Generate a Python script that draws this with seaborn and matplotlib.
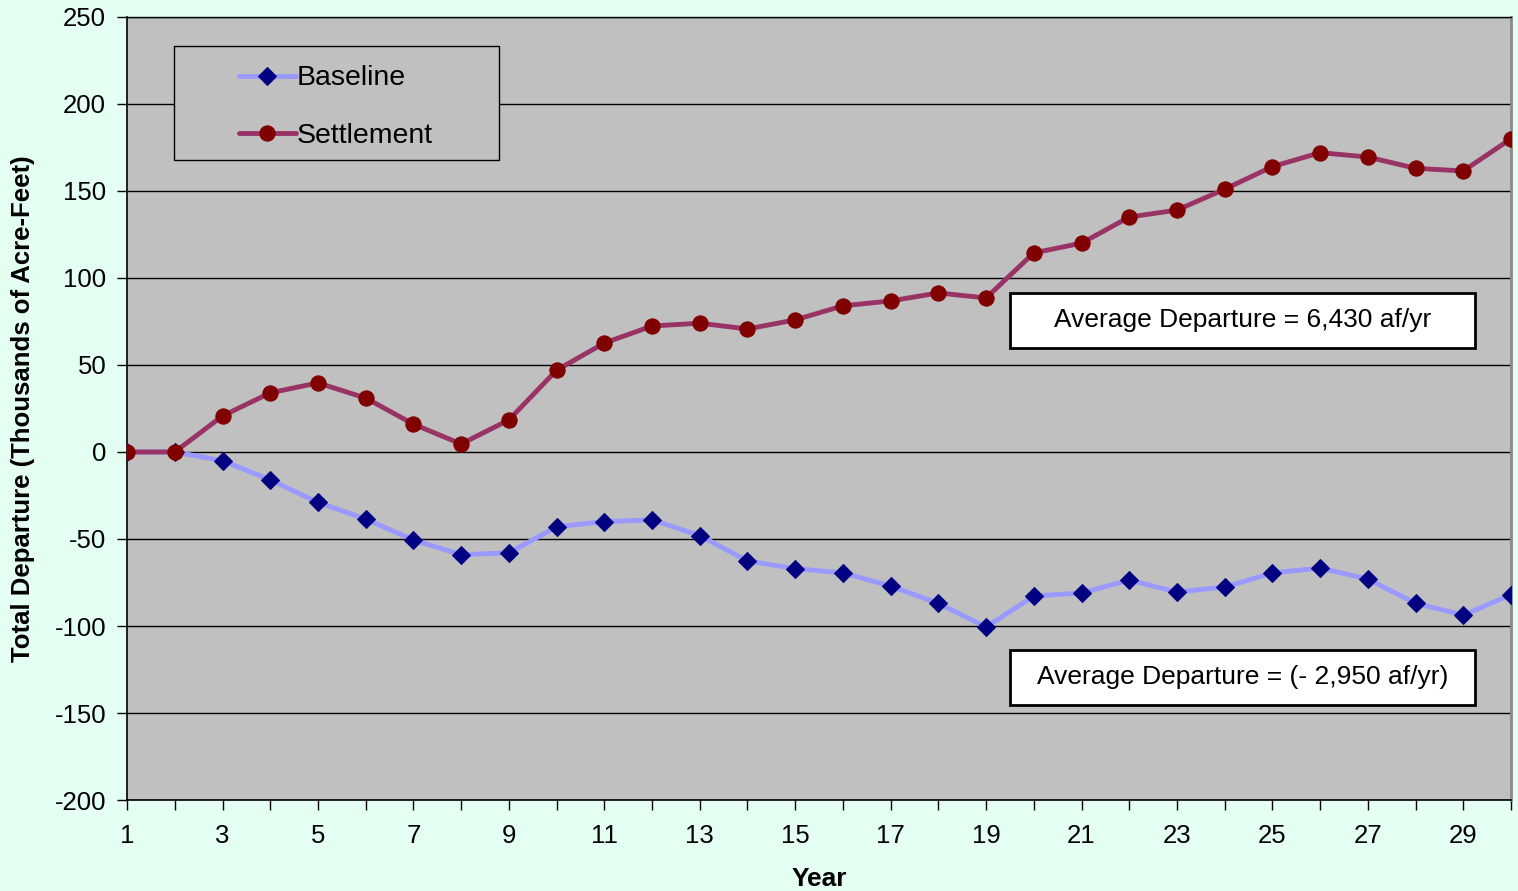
import matplotlib
matplotlib.use("Agg")
import matplotlib.pyplot as plt
from matplotlib.patches import Rectangle
import seaborn as sns
import pandas as pd

years = list(range(1, 31))
baseline = [0, 0, -5, -16, -29, -38.5, -50.6, -59, -58, -43,
            -40, -39, -48, -62.6, -67, -69.5, -77, -87, -100.6, -82.8,
            -81, -73.6, -80.5, -77.6, -69.5, -66.7, -73, -87, -93.7, -82]
settlement = [0, 0, 20.7, 34, 39.7, 31, 16, 4.6, 18.4, 47,
              62.6, 72.4, 74, 70.7, 75.9, 84, 86.8, 91.4, 88.5, 114.4,
              120, 135, 139, 151, 164, 172, 169.5, 163, 161.5, 180]
yticks = list(range(-200, 251, 50))
xtick_labels = [str(y) if y % 2 == 1 else "" for y in years]
notes = ["Average Departure = 6,430 af/yr", "Average Departure = (- 2,950 af/yr)"]

sns.set_theme(style="white")
plt.rcParams["font.family"] = ["Liberation Sans", "DejaVu Sans"]
for key in ["text.color", "axes.labelcolor", "xtick.color", "ytick.color"]:
    plt.rcParams[key] = "black"

fig = plt.figure(figsize=(15.18, 8.91), dpi=100, facecolor="#E4FFF2")
ax = fig.add_axes([0.0837, 0.1021, 0.9117, 0.8789])
ax.set_facecolor("#C0C0C0")

df = pd.DataFrame({"Year": years, "Baseline": baseline, "Settlement": settlement})

sns.lineplot(data=df, x="Year", y="Baseline", ax=ax, color="#9999FF", lw=3.5,
             marker="D", markersize=9.5, markerfacecolor="#000080",
             markeredgecolor="#000080", label="Baseline", zorder=3)
sns.lineplot(data=df, x="Year", y="Settlement", ax=ax, color="#993366", lw=3.5,
             marker="o", markersize=11, markerfacecolor="#800000",
             markeredgecolor="#800000", label="Settlement", zorder=4)

ax.set_xlim(1, 30)
ax.set_ylim(-200, 250)
ax.set_yticks(yticks)
ax.set_yticklabels([str(v) for v in yticks], fontsize=18.5)
ax.set_xticks(years)
ax.set_xticklabels(xtick_labels, fontsize=18.5)
ax.tick_params(axis="both", direction="out", length=7, width=1, color="black",
               bottom=True, left=True)
ax.tick_params(axis="y", pad=8)
ax.tick_params(axis="x", pad=10)
ax.yaxis.grid(True, color="black", lw=1)
ax.xaxis.grid(False)
ax.set_axisbelow(True)

for side in ["left", "bottom"]:
    ax.spines[side].set_color("black")
    ax.spines[side].set_linewidth(1.2)
ax.spines["top"].set_color("black")
ax.spines["top"].set_linewidth(1)
ax.spines["right"].set_color("#8A8A8A")
ax.spines["right"].set_linewidth(2)

ax.set_xlabel("Year", fontsize=19, fontweight="bold", labelpad=14)
ax.set_ylabel("Total Departure (Thousands of Acre-Feet)", fontsize=18.5,
              fontweight="bold", labelpad=14)

# legend frame drawn as its own box, legend entries placed inside it
ax.add_patch(Rectangle((0.034, 0.8174), 0.2348, 0.1456, transform=ax.transAxes,
                       facecolor="#C0C0C0", edgecolor="black", lw=1, zorder=5))
leg = ax.legend(loc="upper left", bbox_to_anchor=(0.0806, 0.938), fontsize=20.5,
                frameon=False, borderpad=0, labelspacing=1.1,
                handlelength=2.0, handletextpad=0.05, borderaxespad=0)
leg.set_zorder(6)

# annotation boxes
for yc, note in [(0.6124, notes[0]), (0.157, notes[1])]:
    ax.add_patch(Rectangle((0.638, yc - 0.0351), 0.336, 0.0702,
                           transform=ax.transAxes, facecolor="white",
                           edgecolor="black", lw=2, zorder=5))
    ax.text(0.806, yc, note, transform=ax.transAxes, fontsize=19,
            ha="center", va="center", zorder=6)

fig.savefig("out.png", dpi=100, facecolor=fig.get_facecolor())
